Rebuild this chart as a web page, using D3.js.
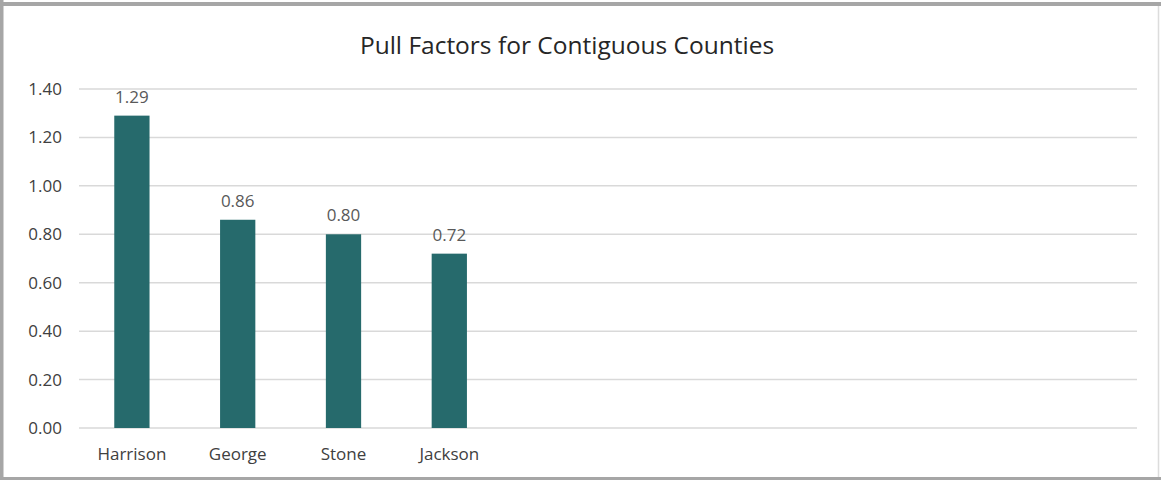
<!DOCTYPE html>
<html>
<head>
<meta charset="utf-8">
<script src="https://cdn.jsdelivr.net/npm/d3@7"></script>
<style>
  body { margin: 0; background: #fff; }
  svg { display: block; font-family: "Open Sans", "Noto Sans", sans-serif; }
</style>
</head>
<body>
<svg></svg>
<script>
// Chart data
const counties = ["Harrison", "George", "Stone", "Jackson"];
const pullFactors = [1.29, 0.86, 0.80, 0.72];
const yTicks = [0, 0.2, 0.4, 0.6, 0.8, 1.0, 1.2, 1.4];
const titleText = "Pull Factors for Contiguous Counties";

// Set up SVG dimensions
const width = 1161;
const height = 480;
const margin = { top: 89, right: 24, bottom: 52, left: 79 };
const slotCount = 10; // the plot leaves room for 10 category slots

const svg = d3.select("svg").attr("width", width).attr("height", height);

// Outer frame (heavier on top/left/bottom, faint on the right)
const frame = svg.append("g").attr("class", "frame");
frame
  .append("line")
  .attr("x1", 0).attr("x2", width)
  .attr("y1", 4).attr("y2", 4)
  .attr("stroke", "#a6a6a6").attr("stroke-width", 4);
frame
  .append("line")
  .attr("x1", 1.5).attr("x2", 1.5)
  .attr("y1", 0).attr("y2", height)
  .attr("stroke", "#a6a6a6").attr("stroke-width", 4);
frame
  .append("line")
  .attr("x1", 0).attr("x2", width)
  .attr("y1", 478.5).attr("y2", 478.5)
  .attr("stroke", "#a6a6a6").attr("stroke-width", 3);
frame
  .append("line")
  .attr("x1", 1158.5).attr("x2", 1158.5)
  .attr("y1", 6).attr("y2", 477)
  .attr("stroke", "#dcdcdc").attr("stroke-width", 1.5);

// Set up scales
const x = d3
  .scaleBand()
  .domain(d3.range(slotCount))
  .range([margin.left, width - margin.right])
  .padding(0);
const y = d3
  .scaleLinear()
  .domain([0, 1.4])
  .range([height - margin.bottom, margin.top]);

// Gridlines
svg
  .append("g")
  .attr("class", "grid")
  .selectAll("line")
  .data(yTicks)
  .join("line")
  .attr("x1", margin.left)
  .attr("x2", width - margin.right)
  .attr("y1", (d) => y(d))
  .attr("y2", (d) => y(d))
  .attr("stroke", "#d9d9d9")
  .attr("stroke-width", 1.5);

// Y axis labels
const yAxis = svg
  .append("g")
  .attr("class", "y-axis")
  .attr("transform", `translate(${margin.left - 17},0)`)
  .call(
    d3
      .axisLeft(y)
      .tickValues(yTicks)
      .tickSize(0)
      .tickPadding(0)
      .tickFormat(d3.format(".2f"))
  );
yAxis.select(".domain").remove();
yAxis
  .selectAll("text")
  .attr("fill", "#404040")
  .style("font-size", "17px")
  .style("font-family", "'Open Sans', sans-serif");

// Bars
const barW = x.bandwidth() / 3;
svg
  .append("g")
  .attr("class", "bars")
  .selectAll("rect")
  .data(pullFactors)
  .join("rect")
  .attr("x", (d, i) => x(i) + x.bandwidth() / 2 - barW / 2)
  .attr("y", (d) => y(d))
  .attr("width", barW)
  .attr("height", (d) => y(0) - y(d))
  .attr("fill", "#266a6c");

// Value labels
svg
  .append("g")
  .attr("class", "values")
  .selectAll("text")
  .data(pullFactors)
  .join("text")
  .attr("x", (d, i) => x(i) + x.bandwidth() / 2)
  .attr("y", (d) => y(d) - 13)
  .attr("text-anchor", "middle")
  .attr("fill", "#595959")
  .style("font-size", "17px")
  .text((d) => d.toFixed(2));

// Category labels
svg
  .append("g")
  .attr("class", "x-axis")
  .selectAll("text")
  .data(counties)
  .join("text")
  .attr("x", (d, i) => x(i) + x.bandwidth() / 2)
  .attr("y", height - margin.bottom + 32)
  .attr("text-anchor", "middle")
  .attr("fill", "#404040")
  .style("font-size", "17px")
  .text((d) => d);

// Title
svg
  .append("text")
  .attr("x", 567)
  .attr("y", 54)
  .attr("text-anchor", "middle")
  .attr("fill", "#262626")
  .style("font-size", "24.5px")
  .text(titleText);
</script>
</body>
</html>
